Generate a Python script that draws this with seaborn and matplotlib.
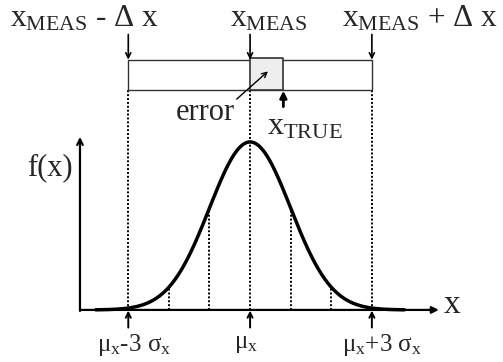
import numpy as np
import pandas as pd
import matplotlib
matplotlib.use("Agg")
import matplotlib.pyplot as plt
import seaborn as sns

# Normal distribution f(x), plotted in units of sigma around the mean
mu = 0.0
sigma = 1.0
curve_span = 3.8                      # curve drawn out to +/- this many sigma
sigma_marks = [-2, -1, 1, 2]          # dotted guides under the curve
band_marks = [-3, 0, 3]               # x_MEAS - dx, x_MEAS, x_MEAS + dx
x_true_offset = 0.82                  # x_TRUE relative to x_MEAS (in sigma)

sub = r"$_{\mathrm{%s}}$"
top_labels = ["x" + sub % "MEAS" + " - Δ x",
              "x" + sub % "MEAS",
              "x" + sub % "MEAS" + " + Δ x"]
top_label_left = [-5.91, -0.49, 2.27]
bottom_labels = ["μ" + sub % "x" + "-3 σ" + sub % "x",
                 "μ" + sub % "x",
                 "μ" + sub % "x" + "+3 σ" + sub % "x"]
bottom_label_left = [-3.77, -0.40, 2.27]
bottom_label_base = [-0.245, -0.225, -0.245]

sns.set_style("white")
plt.rcParams["font.family"] = ["Liberation Serif", "DejaVu Serif"]
plt.rcParams["mathtext.fontset"] = "custom"
plt.rcParams["mathtext.rm"] = "Liberation Serif"
plt.rcParams["mathtext.it"] = "Liberation Serif:italic"

fig = plt.figure(figsize=(5.03, 3.62), dpi=100)
ax = fig.add_axes([0, 0, 1, 1])
ax.set_xlim(-6.16, 6.23)
ax.set_ylim(-0.31, 1.845)
ax.axis("off")

xs = np.linspace(mu - curve_span * sigma, mu + curve_span * sigma, 400)
def f(x):
    return np.exp(-0.5 * ((x - mu) / sigma) ** 2)

df = pd.DataFrame({"x": xs, "f": f(xs)})
sns.lineplot(data=df, x="x", y="f", ax=ax, color="black", lw=2.5, zorder=3)

dot = (0, (1, 1))
# coordinate axes with arrow heads
ax_left = -4.19
ax.annotate("", xy=(4.65, 0), xytext=(ax_left, 0),
            arrowprops=dict(arrowstyle="-|>", lw=1.6, color="black",
                            mutation_scale=10, shrinkA=0, shrinkB=0))
ax.annotate("", xy=(ax_left, 1.03), xytext=(ax_left, -0.006),
            arrowprops=dict(arrowstyle="->", lw=1.6, color="black",
                            mutation_scale=10, shrinkA=0, shrinkB=0))
ax.text(ax_left - 0.17, 0.80, "f(x)", fontsize=22, ha="right", va="baseline")
ax.text(4.77, -0.02, "x", fontsize=24, ha="left", va="baseline")

# measurement band
box_lo, box_hi = 1.31, 1.49
ax.fill_between([band_marks[0], band_marks[-1]], box_lo, box_hi,
                facecolor="white", edgecolor="#333333", lw=1.0, zorder=2)
ax.fill_between([mu, mu + x_true_offset], box_lo, box_hi + 0.01,
                facecolor="#eeeeee", edgecolor="#333333", lw=1.2, zorder=2.5)

# dotted guides
for m in band_marks:
    ax.plot([m, m], [0, box_lo], color="black", lw=1.4, ls=dot, zorder=1)
for m in sigma_marks:
    ax.plot([m, m], [0, f(m)], color="black", lw=1.4, ls=dot, zorder=1)

# arrows into the band
for m in band_marks:
    ax.annotate("", xy=(m, box_hi), xytext=(m, 1.64),
                arrowprops=dict(arrowstyle="->", lw=1.2, color="black",
                                mutation_scale=9, shrinkA=0, shrinkB=0))
# labels above the band
for x0, lab in zip(top_label_left, top_labels):
    ax.text(x0, 1.685, lab, fontsize=22.5, ha="left", va="baseline")

# x_TRUE marker
ax.annotate("", xy=(x_true_offset, box_lo - 0.005), xytext=(x_true_offset, 1.21),
            arrowprops=dict(arrowstyle="-|>", lw=2.0, color="black",
                            mutation_scale=10, shrinkA=0, shrinkB=0))
ax.text(0.42, 1.045, "x" + sub % "TRUE", fontsize=23, ha="left", va="baseline")

# error arrow
ax.annotate("", xy=(0.44, 1.42), xytext=(-0.33, 1.255),
            arrowprops=dict(arrowstyle="->", lw=1.0, color="black",
                            mutation_scale=9, shrinkA=0, shrinkB=0))
ax.text(-0.37, 1.13, "error", fontsize=22, ha="right", va="baseline")

# arrows and labels below the x axis
for m in band_marks:
    ax.annotate("", xy=(m, -0.004), xytext=(m, -0.105),
                arrowprops=dict(arrowstyle="->", lw=1.4, color="black",
                                mutation_scale=9, shrinkA=0, shrinkB=0))
for x0, yb, lab in zip(bottom_label_left, bottom_label_base, bottom_labels):
    ax.text(x0, yb, lab, fontsize=18, ha="left", va="baseline")

fig.savefig("out.png", dpi=100)
